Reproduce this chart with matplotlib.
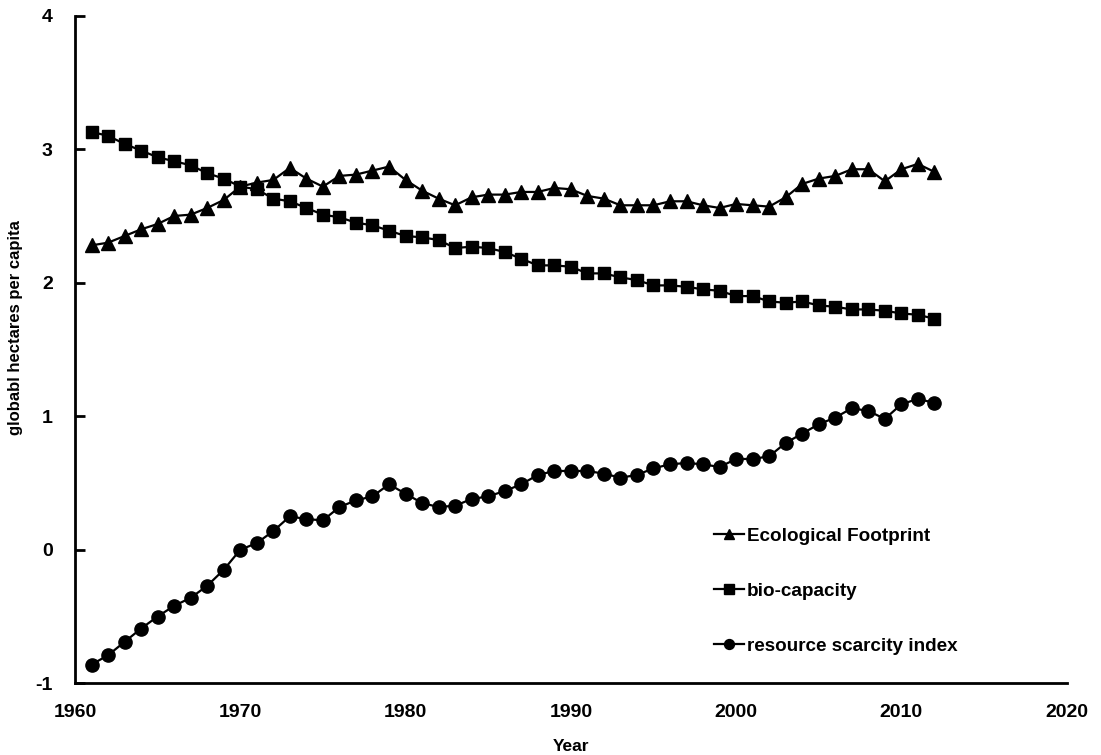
import matplotlib.pyplot as plt

plt.rcParams['font.family'] = ['Liberation Sans', 'DejaVu Sans']
plt.rcParams['font.weight'] = 'bold'
plt.rcParams['axes.unicode_minus'] = False

years = list(range(1961, 2013))

footprint = [2.28, 2.30, 2.35, 2.40, 2.44, 2.50, 2.51, 2.56, 2.62, 2.72,
             2.75, 2.77, 2.86, 2.78, 2.72, 2.80, 2.81, 2.84, 2.87, 2.77,
             2.69, 2.63, 2.58, 2.64, 2.66, 2.66, 2.68, 2.68, 2.71, 2.70,
             2.65, 2.63, 2.58, 2.58, 2.58, 2.61, 2.61, 2.58, 2.56, 2.59,
             2.58, 2.57, 2.64, 2.74, 2.78, 2.80, 2.85, 2.85, 2.76, 2.85,
             2.89, 2.83]

biocapacity = [3.13, 3.10, 3.04, 2.99, 2.94, 2.91, 2.88, 2.82, 2.78, 2.72,
               2.70, 2.63, 2.61, 2.56, 2.51, 2.49, 2.45, 2.43, 2.39, 2.35,
               2.34, 2.32, 2.26, 2.27, 2.26, 2.23, 2.18, 2.13, 2.13, 2.12,
               2.07, 2.07, 2.04, 2.02, 1.98, 1.98, 1.97, 1.95, 1.94, 1.90,
               1.90, 1.86, 1.85, 1.86, 1.83, 1.82, 1.80, 1.80, 1.79, 1.77,
               1.76, 1.73]

scarcity = [-0.86, -0.79, -0.69, -0.59, -0.50, -0.42, -0.36, -0.27, -0.15, 0.00,
            0.05, 0.14, 0.25, 0.23, 0.22, 0.32, 0.37, 0.40, 0.49, 0.42,
            0.35, 0.32, 0.33, 0.38, 0.40, 0.44, 0.49, 0.56, 0.59, 0.59,
            0.59, 0.57, 0.54, 0.56, 0.61, 0.64, 0.65, 0.64, 0.62, 0.68,
            0.68, 0.70, 0.80, 0.87, 0.94, 0.99, 1.06, 1.04, 0.98, 1.09,
            1.13, 1.10]

fig = plt.figure(figsize=(11.01, 7.55), dpi=100)
ax = fig.add_axes([0.0681, 0.0950, 0.9007, 0.8842])

ax.plot(years, footprint, color='black', lw=1.6, marker='^', ms=9.5,
        label='Ecological Footprint')
ax.plot(years, biocapacity, color='black', lw=1.6, marker='s', ms=9,
        label='bio-capacity')
ax.plot(years, scarcity, color='black', lw=1.6, marker='o', ms=9.5,
        label='resource scarcity index')

ax.set_xlim(1960, 2020)
ax.set_ylim(-1, 4)
ax.set_xticks(range(1960, 2021, 10))
ax.set_yticks(range(-1, 5))

for side in ['top', 'right']:
    ax.spines[side].set_visible(False)
for side in ['left', 'bottom']:
    ax.spines[side].set_linewidth(2)

ax.tick_params(axis='y', direction='in', length=7, width=2, pad=16, labelsize=14)
ax.tick_params(axis='x', length=0, pad=15, labelsize=14)

ax.set_xlabel('Year', fontsize=12.5, fontweight='bold')
ax.xaxis.set_label_coords(0.5, -0.084)
ax.set_ylabel('globabl hectares per capita', fontsize=12, fontweight='bold')
ax.yaxis.set_label_coords(-0.052, 0.533)

ax.legend(loc='upper left', bbox_to_anchor=(0.635, 0.247), frameon=False,
          fontsize=13.6, handlelength=1.6, handletextpad=0.15, labelspacing=2.0,
          markerscale=0.75, borderpad=0)

fig.savefig('out.png', dpi=100)
